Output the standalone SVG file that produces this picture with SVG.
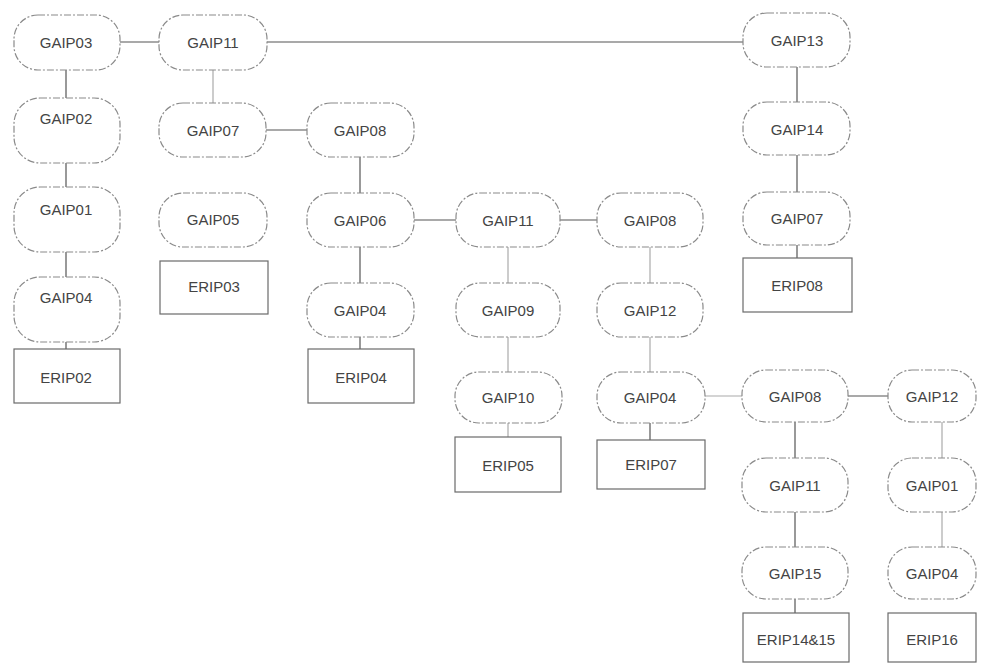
<svg xmlns="http://www.w3.org/2000/svg" width="989" height="665" viewBox="0 0 989 665">
<style>
.n rect{fill:#fff;stroke:#8a8a8a;stroke-width:1.2;stroke-dasharray:7 2 2 2}
.b rect{fill:#fff;stroke:#6a6a6a;stroke-width:1.2}
text{font-family:"Liberation Sans",Arial,sans-serif;font-size:15px;fill:#444;text-anchor:middle;dominant-baseline:central}
.c line{stroke:#555;stroke-width:1.2}
.c line.f{stroke:#aaa}
</style>
<rect width="989" height="665" fill="#fff"/>
<g class="c">
<line x1="120" y1="42" x2="159" y2="42"/>
<line x1="66" y1="70" x2="66" y2="98"/>
<line x1="66" y1="163" x2="66" y2="187"/>
<line x1="66" y1="252" x2="66" y2="277"/>
<line x1="66" y1="342" x2="66" y2="349"/>
<line x1="267" y1="42" x2="743" y2="42"/>
<line class="f" x1="213" y1="70" x2="213" y2="103"/>
<line x1="266" y1="130" x2="307" y2="130"/>
<line x1="360" y1="157" x2="360" y2="193"/>
<line x1="414" y1="220" x2="456" y2="220"/>
<line x1="360" y1="247" x2="360" y2="283"/>
<line x1="360" y1="337" x2="360" y2="349"/>
<line x1="560" y1="220" x2="597" y2="220"/>
<line class="f" x1="508" y1="247" x2="508" y2="283"/>
<line class="f" x1="508" y1="337" x2="508" y2="372"/>
<line class="f" x1="508" y1="423" x2="508" y2="437"/>
<line class="f" x1="650" y1="247" x2="650" y2="283"/>
<line class="f" x1="650" y1="337" x2="650" y2="372"/>
<line x1="650" y1="423" x2="650" y2="440"/>
<line class="f" x1="705" y1="396" x2="742" y2="396"/>
<line x1="797" y1="67" x2="797" y2="102"/>
<line x1="797" y1="155" x2="797" y2="192"/>
<line x1="797" y1="245" x2="797" y2="258"/>
<line x1="795" y1="422" x2="795" y2="458"/>
<line x1="795" y1="512" x2="795" y2="547"/>
<line x1="795" y1="599" x2="795" y2="613"/>
<line x1="848" y1="396" x2="888" y2="396"/>
<line class="f" x1="942" y1="422" x2="942" y2="458"/>
<line class="f" x1="942" y1="512" x2="942" y2="547"/>
</g>
<g id="n_gaip03" class="n"><rect x="14" y="15" width="106" height="55" rx="24"/><text x="66" y="42">GAIP03</text></g>
<g id="n_gaip02" class="n"><rect x="14" y="98" width="106" height="65" rx="26"/><text x="66" y="118">GAIP02</text></g>
<g id="n_gaip01a" class="n"><rect x="14" y="187" width="106" height="65" rx="26"/><text x="66" y="209">GAIP01</text></g>
<g id="n_gaip04a" class="n"><rect x="14" y="277" width="106" height="65" rx="26"/><text x="66" y="297">GAIP04</text></g>
<g id="n_erip02" class="b"><rect x="14" y="349" width="106" height="54"/><text x="66" y="377">ERIP02</text></g>
<g id="n_gaip11a" class="n"><rect x="159" y="15" width="108" height="55" rx="24"/><text x="213" y="42">GAIP11</text></g>
<g id="n_gaip07a" class="n"><rect x="159" y="103" width="107" height="54" rx="24"/><text x="213" y="130">GAIP07</text></g>
<g id="n_gaip05" class="n"><rect x="159" y="193" width="108" height="54" rx="24"/><text x="213" y="219">GAIP05</text></g>
<g id="n_erip03" class="b"><rect x="160" y="261" width="108" height="53"/><text x="214" y="286">ERIP03</text></g>
<g id="n_gaip08a" class="n"><rect x="307" y="103" width="107" height="54" rx="24"/><text x="360" y="130">GAIP08</text></g>
<g id="n_gaip06" class="n"><rect x="307" y="193" width="107" height="54" rx="24"/><text x="360" y="220">GAIP06</text></g>
<g id="n_gaip04b" class="n"><rect x="307" y="283" width="107" height="54" rx="24"/><text x="360" y="310">GAIP04</text></g>
<g id="n_erip04" class="b"><rect x="308" y="349" width="106" height="54"/><text x="361" y="377">ERIP04</text></g>
<g id="n_gaip11b" class="n"><rect x="456" y="193" width="104" height="54" rx="24"/><text x="508" y="220">GAIP11</text></g>
<g id="n_gaip09" class="n"><rect x="456" y="283" width="104" height="54" rx="24"/><text x="508" y="310">GAIP09</text></g>
<g id="n_gaip10" class="n"><rect x="455" y="372" width="107" height="51" rx="24"/><text x="508" y="397">GAIP10</text></g>
<g id="n_erip05" class="b"><rect x="455" y="437" width="106" height="55"/><text x="508" y="465">ERIP05</text></g>
<g id="n_gaip08b" class="n"><rect x="597" y="193" width="106" height="54" rx="24"/><text x="650" y="220">GAIP08</text></g>
<g id="n_gaip12a" class="n"><rect x="597" y="283" width="106" height="54" rx="24"/><text x="650" y="310">GAIP12</text></g>
<g id="n_gaip04c" class="n"><rect x="597" y="372" width="108" height="51" rx="24"/><text x="650" y="397">GAIP04</text></g>
<g id="n_erip07" class="b"><rect x="597" y="440" width="108" height="49"/><text x="651" y="464">ERIP07</text></g>
<g id="n_gaip13" class="n"><rect x="743" y="13" width="107" height="54" rx="24"/><text x="797" y="40">GAIP13</text></g>
<g id="n_gaip14" class="n"><rect x="743" y="102" width="107" height="53" rx="24"/><text x="797" y="129">GAIP14</text></g>
<g id="n_gaip07b" class="n"><rect x="743" y="192" width="107" height="53" rx="24"/><text x="797" y="218">GAIP07</text></g>
<g id="n_erip08" class="b"><rect x="743" y="258" width="109" height="54"/><text x="797" y="285">ERIP08</text></g>
<g id="n_gaip08c" class="n"><rect x="742" y="370" width="106" height="52" rx="24"/><text x="795" y="396">GAIP08</text></g>
<g id="n_gaip11c" class="n"><rect x="742" y="458" width="106" height="54" rx="24"/><text x="795" y="485">GAIP11</text></g>
<g id="n_gaip15" class="n"><rect x="742" y="547" width="106" height="52" rx="24"/><text x="795" y="573">GAIP15</text></g>
<g id="n_erip1415" class="b"><rect x="743" y="613" width="106" height="49"/><text x="796" y="639">ERIP14&amp;15</text></g>
<g id="n_gaip12b" class="n"><rect x="888" y="370" width="88" height="52" rx="24"/><text x="932" y="396">GAIP12</text></g>
<g id="n_gaip01b" class="n"><rect x="888" y="458" width="88" height="54" rx="24"/><text x="932" y="485">GAIP01</text></g>
<g id="n_gaip04d" class="n"><rect x="888" y="547" width="88" height="52" rx="24"/><text x="932" y="573">GAIP04</text></g>
<g id="n_erip16" class="b"><rect x="888" y="613" width="88" height="49"/><text x="932" y="639">ERIP16</text></g>
</svg>
